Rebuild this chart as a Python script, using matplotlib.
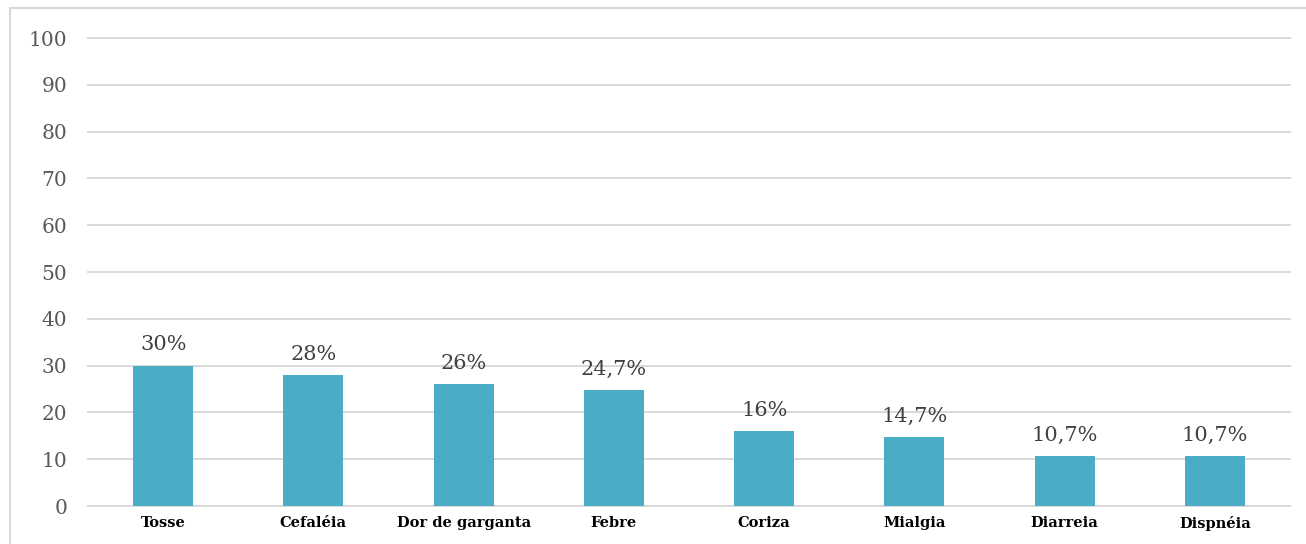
import matplotlib
matplotlib.use("Agg")
import matplotlib.pyplot as plt
from matplotlib.patches import Rectangle

categories = ["Tosse", "Cefaléia", "Dor de garganta", "Febre", "Coriza", "Mialgia", "Diarreia", "Dispnéia"]
values = [30, 28, 26, 24.7, 16, 14.7, 10.7, 10.7]
yticks = [0, 10, 20, 30, 40, 50, 60, 70, 80, 90, 100]

plt.rcParams['font.family'] = ['DejaVu Serif']

W, H = 1306, 544
fig = plt.figure(figsize=(W / 100, H / 100), dpi=100)

# outer chart frame
fig.patches.append(Rectangle((10 / W, -0.05), 1.1, (544 - 8) / H + 0.05,
                             transform=fig.transFigure, fill=False,
                             edgecolor="#D9D9D9", linewidth=1.5))

ax = fig.add_axes([88 / W, (544 - 506) / H, (1290 - 88) / W, (506 - 38) / H])
x = list(range(len(categories)))
ax.bar(x, values, width=0.4, color="#4BACC6", zorder=3)
ax.set_xlim(-0.5, len(categories) - 0.5)
ax.set_ylim(0, 100)
ax.set_yticks(yticks)
ax.set_yticklabels([str(t) for t in yticks], color="#595959", fontsize=14.5)
ax.set_xticks(x)
ax.set_xticklabels(categories, fontsize=10.5, fontweight="bold", color="black")
ax.tick_params(axis="y", length=0, pad=15)
ax.tick_params(axis="x", length=0, pad=7)
for t in yticks:
    ax.axhline(t, color="#D9D9D9", linewidth=1.4, zorder=0, clip_on=False)
for s in ax.spines.values():
    s.set_visible(False)

for xi, v in zip(x, values):
    lbl = (f"{v:g}").replace(".", ",") + "%"
    ax.annotate(lbl, (xi, v), xytext=(0, 8), textcoords="offset points",
                ha="center", va="bottom", fontsize=15, color="#404040")

fig.savefig("out.png", dpi=100)
